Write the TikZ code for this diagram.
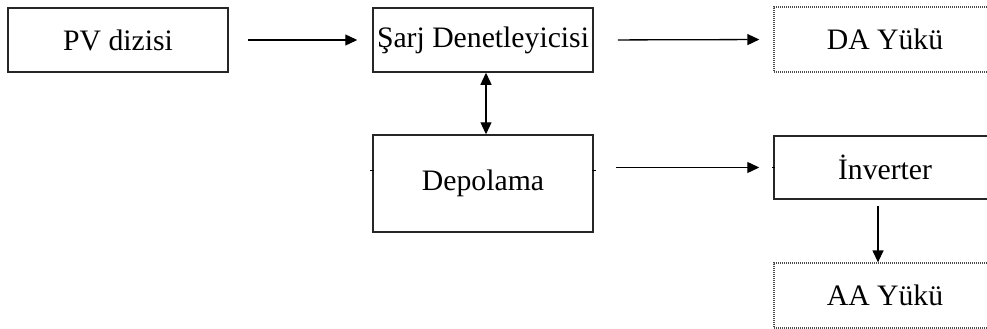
\documentclass[tikz,border=0pt]{standalone}
\usepackage{fontspec}
\setmainfont{Liberation Serif}
\usetikzlibrary{arrows.meta,calc}
\tikzset{
  solidbox/.style={draw=black!85, line width=1.5pt, inner sep=0pt, rectangle, fill=white},
  dotbox/.style={draw=black!70, line width=1.3pt, dash pattern=on 1pt off 1pt, inner sep=0pt, rectangle},
  flow/.style={line width=1.3pt, -{Triangle[length=12pt,width=11pt]}},
  flowboth/.style={line width=1.3pt, {Triangle[length=12pt,width=11pt]}-{Triangle[length=12pt,width=11pt]}},
  tick/.style={line width=1.2pt}
}
\begin{document}
\begin{tikzpicture}[x=1pt,y=-1pt, font=\fontsize{29.7}{34}\selectfont]
\path[use as bounding box, clip] (0,0) rectangle (987,329);
\fill[white] (0,0) rectangle (987,329);
\node[solidbox, minimum width=220pt, minimum height=64pt] (pv) at (118,40) {PV dizisi};
\node[solidbox, minimum width=220pt, minimum height=64pt] (sarj) at (483,40) {Şarj Denetleyicisi};
\node[dotbox, minimum width=222pt, minimum height=65pt] (da) at (885,39.5) {DA Yükü};
\node[solidbox, minimum width=220pt, minimum height=97pt] (dep) at (483,183.5) {Depolama};
\node[solidbox, minimum width=222pt, minimum height=63pt] (inv) at (885,167.5) {İnverter};
\node[dotbox, minimum width=222pt, minimum height=65pt] (aa) at (885,295.5) {AA Yükü};
% small ticks on box sides
\coordinate (tl) at ($(dep.west)+(0,-13)$);
\coordinate (tr) at ($(dep.east)+(0,-13)$);
\coordinate (ti) at (inv.west);
\draw[tick] ($(tl)+(-2,0)$) -- ($(tl)+(2,0)$);
\draw[tick] ($(tr)+(-2,0)$) -- ($(tr)+(2,0)$);
\draw[tick] ($(ti)+(-1,0)$) -- ($(ti)+(2,0)$);
% connectors
\draw[flow, shorten <=19pt, shorten >=15pt] (pv.east) -- (sarj.west);
\draw[flow, shorten <=24pt, shorten >=14pt] (sarj.east) -- (da.west);
\draw[flow, shorten <=22pt, shorten >=14pt] (dep.east |- inv.west) -- (inv.west);
\draw[flow, shorten <=6pt] ($(inv.south)+(-7,0)$) -- ($(aa.north)+(-7,0)$);
\draw[flowboth] ($(sarj.south)+(3,0)$) -- ($(dep.north)+(3,0)$);
\end{tikzpicture}
\end{document}
